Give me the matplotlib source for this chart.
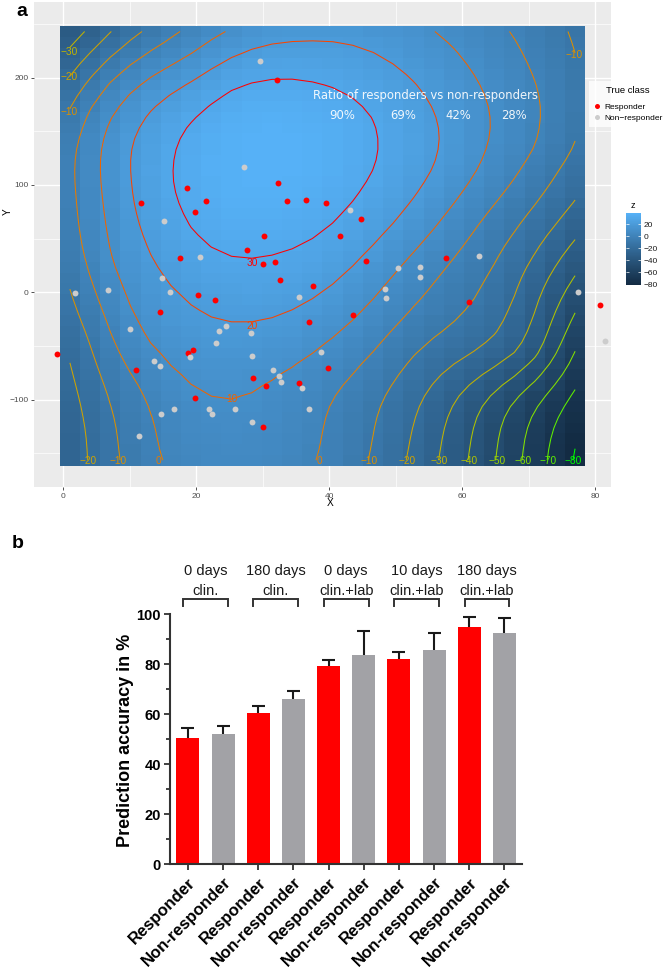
import numpy as np
import matplotlib
matplotlib.use("Agg")
import matplotlib.pyplot as plt
from matplotlib.colors import ListedColormap, Normalize, to_rgb
from matplotlib.lines import Line2D
from matplotlib.ticker import FixedLocator

plt.rcParams['font.family'] = ['Liberation Sans', 'DejaVu Sans']

# ---------------- panel a: scatter data ----------------
resp_x = [18.65, 32.3, 11.7, 21.5, 33.6, 36.5, 39.6, 19.8, 44.8, 30.2, 41.6, 27.7, 17.5, 30.0, 31.9,
          45.5, 32.6, 37.6, 20.2, 22.9, 14.5, 43.6, 37.0, 19.5, 18.8, 10.9, 39.8, 28.6, 30.5, 35.4,
          19.8, -1.0, 30.0, 57.6, 61.0, 80.8, 32.1]
resp_y = [97.5, 101.6, 83.6, 84.8, 84.8, 86.3, 82.9, 74.6, 68.6, 52.7, 52.5, 39.4, 32.0, 26.4, 28.0,
          28.9, 11.5, 6.2, -2.2, -7.5, -18.4, -20.9, -28.0, -53.5, -56.9, -72.4, -70.8, -79.9, -87.6, -84.5,
          -98.8, -57.8, -125.3, 32.2, -9.0, -11.6, 197.9]
non_x = [27.2, 43.2, 15.2, 20.5, 14.8, 6.7, 16.1, 35.5, 48.4, 48.6, 50.4, 10.0, 24.5, 23.5, 28.3,
         23.0, 19.0, 13.7, 14.5, 28.4, 38.8, 31.6, 32.5, 32.7, 35.9, 1.8, 14.7, 16.6, 21.9, 22.4,
         11.4, 25.8, 28.4, 37.0, 53.7, 53.7, 62.5, 77.5, 81.5, 29.6]
non_y = [116.8, 76.4, 66.2, 32.9, 13.6, 2.4, 0.6, -4.7, 3.1, -5.0, 22.9, -33.9, -31.4, -35.8, -37.9,
         -47.3, -60.3, -63.7, -69.0, -59.6, -55.9, -72.4, -78.0, -83.6, -88.9, -0.9, -113.1, -108.8, -108.8, -113.4,
         -133.6, -109.0, -121.2, -108.5, 23.3, 14.5, 33.6, 0.6, -45.1, 215.6]

# ---------------- panel a: surface readings (points on contour lines) ----------
c30_x = [25.1, 31.6, 37.6, 41.1, 43.6, 46.6, 47.2, 46.2, 40.2, 32.6, 25.1, 20.6, 18.6, 16.8, 16.5, 17.1, 20.6]
c30_y = [33, 36, 50, 67, 86, 114, 145, 168, 192, 200, 191, 167, 154, 123, 102, 86, 49]
c20_x = [25.1, 18.0, 13.1, 10.5, 10.4, 10.5, 13.1, 17.1, 20.6, 36.0, 50.6, 55.1, 56.7, 55.6, 50.1, 40.1, 31.6]
c20_y = [-27, -1, 39, 86, 102, 142, 170, 189, 201, 233, 207, 176, 145, 114, 67, 5, -24]
c10_x = [25.4, 17.6, 11.6, 7.5, 5.9, 6.0, 9.0, 12.0, 18.6, 61.2, 64.2, 63.5, 62.3, 55.2, 50.2, 45.1, 37.6, 31.6, 28.1]
c10_y = [-99, -79, -38, 23, 86, 142, 177, 195, 217, 207, 161, 133, 114, 55, 21, -17, -57, -79, -94]
c0_x = [2.1, 2.9, 5.1, 8.1, 11.1, 13.5, 14.3, 1.8, 3.6, 7.0, 11.5, 17.5, 70.2, 71.7, 71.0, 68.7, 63.0, 57.0, 47.0, 40.0, 38.6]
c0_y = [86, 39, -7, -57, -82, -113, -157, 133, 170, 198, 219, 243, 207, 182, 133, 114, 70, 21, -54, -101, -157]
cm10_x = [1.0, 3.6, 5.9, 7.5, 8.3, 1.0, 11.9, 77.0, 76.7, 74.2, 53.2, 48.0, 46.0]
cm10_y = [6.5, -38, -85, -117, -157, 168, 243, 221, 133, 114, -54, -101, -157]
cm20_x = [1.0, 7.2, 1.0, 2.6, 3.6, 3.8, 77.0, 62.7, 54.0, 51.7]
cm20_y = [200, 243, -61, -101, -132, -157, 84, -54, -101, -157]
cm30_x = [0.5, 3.6, 77.0, 69.2, 58.9, 56.5]
cm30_y = [224, 243, 49, -54, -101, -157]
cm40_x = [77.0, 72.2, 63.3, 61.0]
cm40_y = [16, -54, -101, -157]
cm50_x = [77.0, 74.3, 67.5, 65.1]
cm50_y = [-17, -54, -101, -157]
cm60_x = [77.0, 71.7, 69.2]
cm60_y = [-50, -101, -157]
cm70_x = [77.0, 75.8, 72.9]
cm70_y = [-91, -101, -157]
cm80_x = [77.0, 76.5]
cm80_y = [-145, -155]
peak_x = [31.0, 77.0]
peak_y = [115.0, 177.0]
peak_z = [38.0, -8.0]

contour_levels = [-80, -70, -60, -50, -40, -30, -20, -10, 0, 10, 20, 30]

# contour labels (level, x, y, alignment)
lab_lev = [-30, -20, -10, -10, -20, -10, 0, 0, -10, -20, -30, -40, -50, -60, -70, -80, 30, 20, 10]
lab_x = [-0.4, -0.4, -0.4, 78.2, 3.7, 8.2, 14.3, 38.6, 46.0, 51.7, 56.5, 61.0, 65.2, 69.1, 73.0, 76.7, 28.4, 28.4, 25.3]
lab_y = [224, 201, 168, 221.5, -157.5, -157.5, -157.5, -157.5, -157.5, -157.5, -157.5, -157.5, -157.5,
         -157.5, -157.5, -157.5, 27.3, -31.4, -99.5]
lab_ha = ['left', 'left', 'left', 'right'] + ['center'] * 15

ratio_title = "Ratio of responders vs non-responders"
ratio_labels = ["90%", "69%", "42%", "28%"]
ratio_x = [41.9, 51.2, 59.4, 67.8]

# ---------------- panel b data ----------------
bar_labels = ["Responder", "Non-responder"] * 5
bar_values = [50.7, 52.3, 60.5, 66.0, 79.3, 83.9, 82.1, 85.8, 94.9, 92.5]
bar_errors = [3.7, 2.9, 2.7, 3.2, 2.5, 9.4, 2.8, 6.8, 4.0, 6.1]
bar_colors = ["#FF0000", "#A2A2A6"] * 5
group_top = ["0 days", "180 days", "0 days", "10 days", "180 days"]
group_bottom = ["clin.", "clin.", "clin.+lab", "clin.+lab", "clin.+lab"]


# ---------------- colour helpers (Lab interpolation like ggplot) ----------------
_M = np.array([[0.4124564, 0.3575761, 0.1804375],
               [0.2126729, 0.7151522, 0.0721750],
               [0.0193339, 0.1191920, 0.9503041]])
_WP = np.array([0.95047, 1.0, 1.08883])


def srgb_to_lab(rgb):
    rgb = np.asarray(rgb, float)
    lin = np.where(rgb <= 0.04045, rgb / 12.92, ((rgb + 0.055) / 1.055) ** 2.4)
    t = (_M @ lin) / _WP
    d = 6 / 29
    f = np.where(t > d ** 3, np.cbrt(t), t / (3 * d ** 2) + 4 / 29)
    return np.array([116 * f[1] - 16, 500 * (f[0] - f[1]), 200 * (f[1] - f[2])])


def lab_to_srgb(lab):
    L, a, b = lab
    fy_ = (L + 16) / 116
    f = np.array([fy_ + a / 500, fy_, fy_ - b / 200])
    d = 6 / 29
    t = np.where(f > d, f ** 3, 3 * d ** 2 * (f - 4 / 29))
    lin = np.linalg.solve(_M, t * _WP)
    lin = np.clip(lin, 0, 1)
    rgb = np.where(lin <= 0.0031308, 12.92 * lin, 1.055 * lin ** (1 / 2.4) - 0.055)
    return np.clip(rgb, 0, 1)


def lab_cmap(c1, c2, n=128):
    l1, l2 = srgb_to_lab(to_rgb(c1)), srgb_to_lab(to_rgb(c2))
    return ListedColormap([lab_to_srgb(l1 + (l2 - l1) * t) for t in np.linspace(0, 1, n)])


fill_cmap = lab_cmap("#132B43", "#56B1F7")
line_cmap = lab_cmap("#00FF00", "#FF0000")
line_norm = Normalize(-80, 30)

# ---------------- smooth surface (thin-plate spline) through the read contour points ----------------
groups = [(30, c30_x, c30_y), (20, c20_x, c20_y), (10, c10_x, c10_y), (0, c0_x, c0_y),
          (-10, cm10_x, cm10_y), (-20, cm20_x, cm20_y), (-30, cm30_x, cm30_y), (-40, cm40_x, cm40_y),
          (-50, cm50_x, cm50_y), (-60, cm60_x, cm60_y), (-70, cm70_x, cm70_y), (-80, cm80_x, cm80_y)]
PX, PY, PZ = [], [], []
for lev, xs, ys in groups:
    PX += list(xs); PY += list(ys); PZ += [lev] * len(xs)
PX += peak_x; PY += peak_y; PZ += peak_z
PX, PY, PZ = map(lambda a: np.asarray(a, float), (PX, PY, PZ))


def scaled(x, y):
    return np.asarray(x, float) * 0.0665, np.asarray(y, float) * 0.01073


def tps_kernel(d):
    with np.errstate(divide='ignore', invalid='ignore'):
        k = d ** 2 * np.log(d)
    return np.where(d > 0, k, 0.0)


su, sv = scaled(PX, PY)
n = len(su)
K = tps_kernel(np.hypot(su[:, None] - su[None, :], sv[:, None] - sv[None, :]))
P = np.c_[np.ones(n), su, sv]
A = np.zeros((n + 3, n + 3))
A[:n, :n] = K + 0.12 * np.eye(n)
A[:n, n:] = P
A[n:, :n] = P.T
sol = np.linalg.solve(A, np.r_[PZ, 0, 0, 0])
w, a = sol[:n], sol[n:]

gx = np.linspace(1, 77, 26)
gy = np.linspace(-156.5, 243, 41)
GX, GY = np.meshgrid(gx, gy)
gu, gv = scaled(GX.ravel(), GY.ravel())
Kg = tps_kernel(np.hypot(gu[:, None] - su[None, :], gv[:, None] - sv[None, :]))
GZ = (Kg @ w + a[0] + a[1] * gu + a[2] * gv).reshape(GX.shape)

# ---------------- figure ----------------
W, H = 664, 973
fig = plt.figure(figsize=(W / 100, H / 100), dpi=100)


def fx(p):
    return p / W


def fy(p):
    return 1 - p / H


ax = fig.add_axes([fx(34), fy(487), fx(611) - fx(34), fy(2) - fy(487)])
ax.set_facecolor('#EBEBEB')
ax.set_xlim(-4.4, 82.4)
ax.set_ylim(-181.5, 270.5)
ax.set_xticks([0, 20, 40, 60, 80])
ax.set_yticks([-100, 0, 100, 200])
ax.xaxis.set_minor_locator(FixedLocator([10, 30, 50, 70]))
ax.yaxis.set_minor_locator(FixedLocator([-150, -50, 50, 150, 250]))
ax.grid(which='major', color='white', lw=1.0)
ax.grid(which='minor', color='white', lw=0.5)
ax.set_axisbelow(True)
for s in ax.spines.values():
    s.set_visible(False)
ax.tick_params(which='major', length=2.5, width=0.6, color='#333333', labelsize=6,
               labelcolor='#4D4D4D', pad=1.5)
ax.tick_params(which='minor', length=0)

mesh = ax.pcolormesh(gx, gy, GZ, shading='nearest', cmap=fill_cmap,
                     vmin=GZ.min(), vmax=GZ.max(), zorder=1)
lev_draw = [l for l in contour_levels if GZ.min() < l < GZ.max()]
ax.contour(gx, gy, GZ, levels=lev_draw, colors=[line_cmap(line_norm(l)) for l in lev_draw],
           linewidths=0.75, zorder=2)
for lev, x, y, ha in zip(lab_lev, lab_x, lab_y, lab_ha):
    txt = ("\u2212" + str(abs(lev))) if lev < 0 else str(lev)
    ax.text(x, y, txt, color=line_cmap(line_norm(lev)), fontsize=7.3, ha=ha, va='center', zorder=3)

ax.scatter(resp_x, resp_y, s=18, c='#FF0000', linewidths=0, zorder=4, clip_on=False)
ax.scatter(non_x, non_y, s=18, c='#CCCCCC', linewidths=0, zorder=4, clip_on=False)

ax.text(54.5, 183, ratio_title, color='white', fontsize=8.4, family='DejaVu Sans',
        ha='center', va='center', zorder=5, alpha=0.92)
for t, x in zip(ratio_labels, ratio_x):
    ax.text(x, 164.3, t, color='white', fontsize=8.4, family='DejaVu Sans',
            ha='center', va='center', zorder=5, alpha=0.92)

handles = [Line2D([], [], ls='none', marker='o', ms=3.6, mfc='#FF0000', mec='none'),
           Line2D([], [], ls='none', marker='o', ms=3.6, mfc='#CCCCCC', mec='none')]
leg = ax.legend(handles, ['Responder', 'Non\u2212responder'], title='True class',
                loc='upper left', bbox_to_anchor=(fx(589), fy(81)), bbox_transform=fig.transFigure,
                fontsize=6.0, title_fontsize=6.8, frameon=True, fancybox=False,
                handlelength=0.7, handletextpad=0.5, borderpad=0.6, labelspacing=0.4,
                borderaxespad=0)
leg._legend_box.sep = 6
leg.get_frame().set_facecolor('white')
leg.get_frame().set_edgecolor('none')
leg.set_zorder(10)

cax = fig.add_axes([fx(626), fy(285), fx(15), fy(213) - fy(285)])
cb = fig.colorbar(mesh, cax=cax)
cb.outline.set_visible(False)
cb.set_ticks([20, 0, -20, -40, -60, -80])
cax.tick_params(direction='in', color='white', length=2.5, width=0.5, left=True, right=True,
                labelsize=6, labelcolor='#1A1A1A', pad=2)
fig.text(fx(633), fy(206), 'z', fontsize=6.6, ha='center', va='center')

fig.text(fx(330), fy(503), 'X', fontsize=7.3, ha='center', va='center')
fig.text(fx(8), fy(212), 'Y', fontsize=7.3, ha='center', va='center', rotation=90)
fig.text(fx(16), fy(16), 'a', fontsize=14, fontweight='bold', ha='left', va='baseline')

# ---------------- panel b ----------------
ax2 = fig.add_axes([fx(170), fy(864.3), fx(521.7) - fx(170), fy(614.3) - fy(864.3)])
xpos = np.arange(len(bar_values))
ax2.bar(xpos, bar_values, width=0.655, color=bar_colors, edgecolor='none', zorder=2)
tops = np.array(bar_values) + np.array(bar_errors)
ax2.vlines(xpos, bar_values, tops, color='#1A1A1A', lw=1.5, zorder=3)
ax2.hlines(tops, xpos - 0.185, xpos + 0.185, color='#1A1A1A', lw=1.5, zorder=3)
ax2.set_xlim(-0.51, 9.49)
ax2.set_ylim(0, 100)
for s in ['top', 'right']:
    ax2.spines[s].set_visible(False)
for s in ['left', 'bottom']:
    ax2.spines[s].set_linewidth(1.5)
    ax2.spines[s].set_color('#333333')
ax2.set_yticks([0, 20, 40, 60, 80, 100])
ax2.yaxis.set_minor_locator(FixedLocator([10, 30, 50, 70, 90]))
ax2.tick_params(axis='y', which='major', length=4.5, width=1.3, color='#333333', labelsize=10.5, pad=2)
ax2.tick_params(axis='y', which='minor', length=3, width=1.3, color='#333333')
ax2.tick_params(axis='x', which='major', length=4.5, width=1.3, color='#333333', pad=3)
for lab in ax2.get_yticklabels():
    lab.set_fontweight('bold')
ax2.set_xticks(xpos)
ax2.set_xticklabels(bar_labels, rotation=45, ha='right', rotation_mode='anchor',
                    fontsize=12, fontweight='bold')

for g in range(5):
    c = 2 * g + 0.5
    ax2.plot([c - 0.636, c - 0.636, c + 0.636, c + 0.636], [103.4, 106.2, 106.2, 103.4],
             color='#333333', lw=1.4, clip_on=False, solid_joinstyle='miter')
    ax2.text(c, 107.9, group_bottom[g], ha='center', va='baseline', fontsize=10.5, color='#1A1A1A',
             clip_on=False)
    ax2.text(c, 115.9, group_top[g], ha='center', va='baseline', fontsize=10.5, color='#1A1A1A',
             clip_on=False)

fig.text(fx(126), fy(740), 'Prediction accuracy in %', fontsize=13, fontweight='bold',
         rotation=90, ha='center', va='center')
fig.text(fx(12), fy(548), 'b', fontsize=14, fontweight='bold', ha='left', va='baseline')

fig.savefig('out.png', dpi=100)
